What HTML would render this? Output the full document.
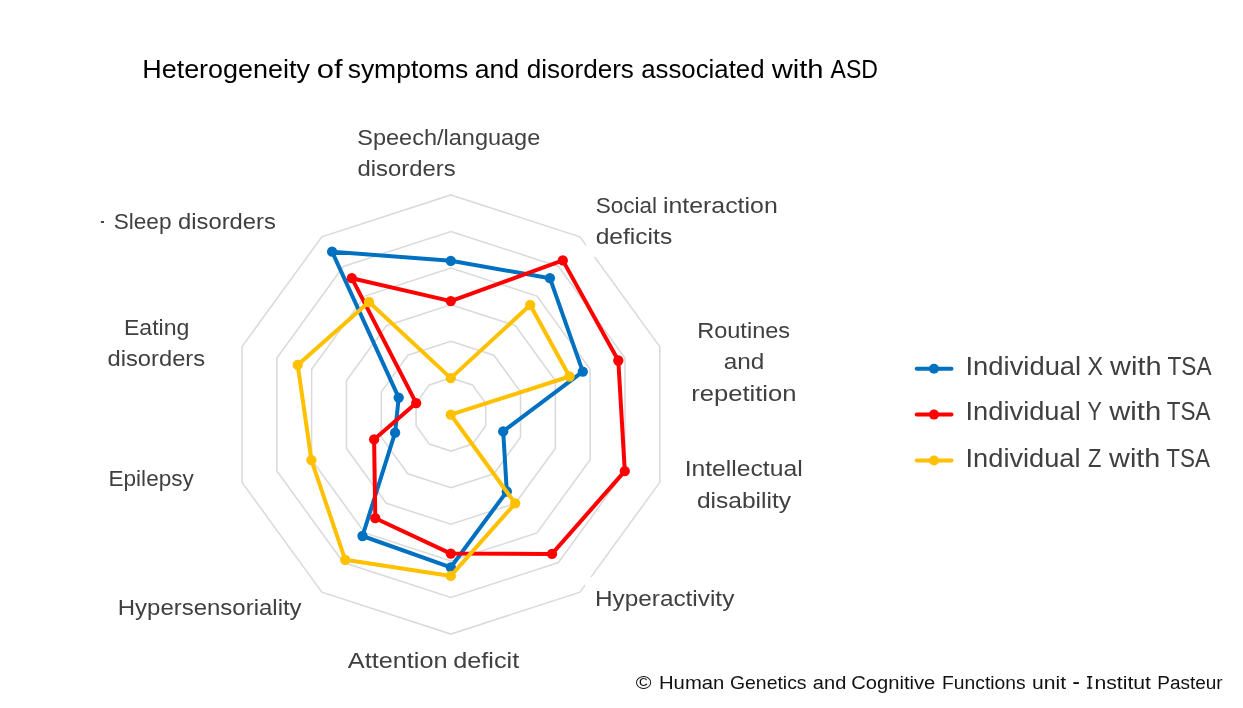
<!DOCTYPE html>
<html><head><meta charset="utf-8"><title>ASD heterogeneity radar</title>
<style>html,body{margin:0;padding:0;background:#fff}svg{display:block}text{font-family:"Liberation Sans",sans-serif;font-variant-ligatures:none;font-kerning:normal}</style></head>
<body>
<svg style="will-change:transform" width="1243" height="708" viewBox="0 0 1243 708">
<rect width="1243" height="708" fill="#ffffff"/>
<g fill="none" stroke="#DADADA" stroke-width="1.55">
<polygon points="450.90,377.90 472.41,384.89 485.71,403.19 485.71,425.81 472.41,444.11 450.90,451.10 429.39,444.11 416.09,425.81 416.09,403.19 429.39,384.89"/>
<polygon points="450.90,341.30 493.93,355.28 520.52,391.88 520.52,437.12 493.93,473.72 450.90,487.70 407.87,473.72 381.28,437.12 381.28,391.88 407.87,355.28"/>
<polygon points="450.90,304.70 515.44,325.67 555.33,380.57 555.33,448.43 515.44,503.33 450.90,524.30 386.36,503.33 346.47,448.43 346.47,380.57 386.36,325.67"/>
<polygon points="450.90,268.10 536.95,296.06 590.13,369.26 590.13,459.74 536.95,532.94 450.90,560.90 364.85,532.94 311.67,459.74 311.67,369.26 364.85,296.06"/>
<polygon points="450.90,231.50 558.46,266.45 624.94,357.95 624.94,471.05 558.46,562.55 450.90,597.50 343.34,562.55 276.86,471.05 276.86,357.95 343.34,266.45"/>
<polygon points="450.90,194.90 579.98,236.84 659.75,346.64 659.75,482.36 579.98,592.16 450.90,634.10 321.82,592.16 242.05,482.36 242.05,346.64 321.82,236.84"/>
</g>
<rect x="586.2" y="190" width="200" height="67" fill="#fff"/>
<rect x="585.2" y="577" width="160" height="42" fill="#fff"/>
<g stroke="#0070C0" fill="#0070C0"><polygon points="450.8,260.8 549.9,278.2 582.8,371.7 503.2,431.4 506.8,491.5 450.8,567.3 362.5,536.0 395.1,432.7 398.7,397.6 332.1,251.7" fill="none" stroke-width="4.0" stroke-linejoin="round"/>
<circle cx="450.8" cy="260.8" r="5.15" stroke="none"/>
<circle cx="549.9" cy="278.2" r="5.15" stroke="none"/>
<circle cx="582.8" cy="371.7" r="5.15" stroke="none"/>
<circle cx="503.2" cy="431.4" r="5.15" stroke="none"/>
<circle cx="506.8" cy="491.5" r="5.15" stroke="none"/>
<circle cx="450.8" cy="567.3" r="5.15" stroke="none"/>
<circle cx="362.5" cy="536.0" r="5.15" stroke="none"/>
<circle cx="395.1" cy="432.7" r="5.15" stroke="none"/>
<circle cx="398.7" cy="397.6" r="5.15" stroke="none"/>
<circle cx="332.1" cy="251.7" r="5.15" stroke="none"/>
</g>
<g stroke="#FF0000" fill="#FF0000"><polygon points="450.8,301.1 562.8,260.4 618.3,360.5 624.8,471.1 552.0,553.9 450.8,553.6 375.3,518.2 374.1,439.4 416.2,403.1 351.8,278.2" fill="none" stroke-width="4.0" stroke-linejoin="round"/>
<circle cx="450.8" cy="301.1" r="5.15" stroke="none"/>
<circle cx="562.8" cy="260.4" r="5.15" stroke="none"/>
<circle cx="618.3" cy="360.5" r="5.15" stroke="none"/>
<circle cx="624.8" cy="471.1" r="5.15" stroke="none"/>
<circle cx="552.0" cy="553.9" r="5.15" stroke="none"/>
<circle cx="450.8" cy="553.6" r="5.15" stroke="none"/>
<circle cx="375.3" cy="518.2" r="5.15" stroke="none"/>
<circle cx="374.1" cy="439.4" r="5.15" stroke="none"/>
<circle cx="416.2" cy="403.1" r="5.15" stroke="none"/>
<circle cx="351.8" cy="278.2" r="5.15" stroke="none"/>
</g>
<g stroke="#FFC000" fill="#FFC000"><polygon points="450.8,378.1 530.2,305.0 569.5,376.5 450.8,414.7 515.2,503.4 450.8,575.9 345.2,559.8 311.4,460.1 297.7,364.9 369.0,302.0" fill="none" stroke-width="4.0" stroke-linejoin="round"/>
<circle cx="450.8" cy="378.1" r="5.15" stroke="none"/>
<circle cx="530.2" cy="305.0" r="5.15" stroke="none"/>
<circle cx="569.5" cy="376.5" r="5.15" stroke="none"/>
<circle cx="450.8" cy="414.7" r="5.15" stroke="none"/>
<circle cx="515.2" cy="503.4" r="5.15" stroke="none"/>
<circle cx="450.8" cy="575.9" r="5.15" stroke="none"/>
<circle cx="345.2" cy="559.8" r="5.15" stroke="none"/>
<circle cx="311.4" cy="460.1" r="5.15" stroke="none"/>
<circle cx="297.7" cy="364.9" r="5.15" stroke="none"/>
<circle cx="369.0" cy="302.0" r="5.15" stroke="none"/>
</g>
<line x1="916.7" y1="368.7" x2="951.5" y2="368.7" stroke="#0070C0" stroke-width="4.0" stroke-linecap="round"/><circle cx="934" cy="368.7" r="5.0" fill="#0070C0"/>
<line x1="916.7" y1="414.6" x2="951.5" y2="414.6" stroke="#FF0000" stroke-width="4.0" stroke-linecap="round"/><circle cx="934" cy="414.6" r="5.0" fill="#FF0000"/>
<line x1="916.7" y1="460.5" x2="951.5" y2="460.5" stroke="#FFC000" stroke-width="4.0" stroke-linecap="round"/><circle cx="934" cy="460.5" r="5.0" fill="#FFC000"/>
<rect x="1073.4" y="682.1" width="5.5" height="1.9" fill="#111"/>
<path d="M1087.1 676h5.1v1.5h-1.7v9.7h1.7v1.5h-5.1v-1.5h1.7v-9.7h-1.7z" fill="#111"/>
<rect x="100.9" y="221.05" width="3.1" height="1.9" fill="#404040"/>
<text transform="translate(142.21,77.80) scale(1.0825,1)" font-size="24.9" fill="#000000">Heterogeneity</text>
<text transform="translate(316.74,77.80) scale(1.2455,1)" font-size="24.9" fill="#000000">of</text>
<text transform="translate(347.63,77.80) scale(1.0646,1)" font-size="24.9" fill="#000000">symptoms</text>
<text transform="translate(474.72,77.80) scale(1.0694,1)" font-size="24.9" fill="#000000">and</text>
<text transform="translate(526.65,77.80) scale(1.0474,1)" font-size="24.9" fill="#000000">disorders</text>
<text transform="translate(641.21,77.80) scale(1.0364,1)" font-size="24.9" fill="#000000">associated</text>
<text transform="translate(771.64,77.80) scale(1.1731,1)" font-size="24.9" fill="#000000">with</text>
<text transform="translate(830.54,77.80) scale(0.9262,1)" font-size="24.9" fill="#000000">ASD</text>
<text transform="translate(357.24,144.60) scale(1.0549,1)" font-size="22.3" fill="#404040">Speech/language</text>
<text transform="translate(357.51,176.40) scale(1.0706,1)" font-size="22.3" fill="#404040">disorders</text>
<text transform="translate(595.68,212.70) scale(1.0107,1)" font-size="22.3" fill="#404040">Social</text>
<text transform="translate(662.98,212.70) scale(1.1160,1)" font-size="22.3" fill="#404040">interaction</text>
<text transform="translate(595.66,244.20) scale(1.1026,1)" font-size="22.3" fill="#404040">deficits</text>
<text transform="translate(697.14,337.60) scale(1.0568,1)" font-size="22.3" fill="#404040">Routines</text>
<text transform="translate(723.66,369.10) scale(1.0910,1)" font-size="22.3" fill="#404040">and</text>
<text transform="translate(691.15,400.80) scale(1.1484,1)" font-size="22.3" fill="#404040">repetition</text>
<text transform="translate(684.63,475.50) scale(1.1080,1)" font-size="22.3" fill="#404040">Intellectual</text>
<text transform="translate(696.88,507.60) scale(1.1020,1)" font-size="22.3" fill="#404040">disability</text>
<text transform="translate(594.92,605.70) scale(1.0927,1)" font-size="22.3" fill="#404040">Hyperactivity</text>
<text transform="translate(347.79,667.80) scale(1.1344,1)" font-size="22.3" fill="#404040">Attention</text>
<text transform="translate(453.22,667.80) scale(1.1329,1)" font-size="22.3" fill="#404040">deficit</text>
<text transform="translate(117.79,614.60) scale(1.0756,1)" font-size="22.3" fill="#404040">Hypersensoriality</text>
<text transform="translate(108.56,485.70) scale(1.0111,1)" font-size="22.3" fill="#404040">Epilepsy</text>
<text transform="translate(123.90,334.90) scale(1.0353,1)" font-size="22.3" fill="#404040">Eating</text>
<text transform="translate(107.54,366.00) scale(1.0637,1)" font-size="22.3" fill="#404040">disorders</text>
<text transform="translate(113.66,229.30) scale(1.0147,1)" font-size="22.3" fill="#404040">Sleep</text>
<text transform="translate(178.01,229.30) scale(1.0677,1)" font-size="22.3" fill="#404040">disorders</text>
<text transform="translate(965.51,375.00) scale(1.1000,1)" font-size="24.9" fill="#404040">Individual</text>
<text transform="translate(1087.54,375.00) scale(0.9325,1)" font-size="24.9" fill="#404040">X</text>
<text transform="translate(1110.11,375.00) scale(1.1643,1)" font-size="24.9" fill="#404040">with</text>
<text transform="translate(1167.45,375.00) scale(0.9101,1)" font-size="24.9" fill="#404040">TSA</text>
<text transform="translate(965.53,420.00) scale(1.0954,1)" font-size="24.9" fill="#404040">Individual</text>
<text transform="translate(1087.42,420.00) scale(0.8616,1)" font-size="24.9" fill="#404040">Y</text>
<text transform="translate(1109.13,420.00) scale(1.1759,1)" font-size="24.9" fill="#404040">with</text>
<text transform="translate(1166.69,420.00) scale(0.9032,1)" font-size="24.9" fill="#404040">TSA</text>
<text transform="translate(965.54,467.30) scale(1.0940,1)" font-size="24.9" fill="#404040">Individual</text>
<text transform="translate(1087.92,467.30) scale(0.8819,1)" font-size="24.9" fill="#404040">Z</text>
<text transform="translate(1109.10,467.30) scale(1.1579,1)" font-size="24.9" fill="#404040">with</text>
<text transform="translate(1166.22,467.30) scale(0.9038,1)" font-size="24.9" fill="#404040">TSA</text>
<text transform="translate(635.76,688.50) scale(1.2153,1)" font-size="17.6" fill="#111111">©</text>
<text transform="translate(658.98,688.50) scale(1.1520,1)" font-size="17.6" fill="#111111">Human</text>
<text transform="translate(729.95,688.50) scale(1.1039,1)" font-size="17.6" fill="#111111">Genetics</text>
<text transform="translate(812.87,688.50) scale(1.1382,1)" font-size="17.6" fill="#111111">and</text>
<text transform="translate(851.27,688.50) scale(1.1462,1)" font-size="17.6" fill="#111111">Cognitive</text>
<text transform="translate(942.10,688.50) scale(1.0945,1)" font-size="17.6" fill="#111111">Functions</text>
<text transform="translate(1032.08,688.50) scale(1.2000,1)" font-size="17.6" fill="#111111">unit</text>
<text transform="translate(1094.41,688.50) scale(1.2052,1)" font-size="17.6" fill="#111111">nstitut</text>
<text transform="translate(1157.20,688.50) scale(1.0803,1)" font-size="17.6" fill="#111111">Pasteur</text>
</svg>
</body></html>
